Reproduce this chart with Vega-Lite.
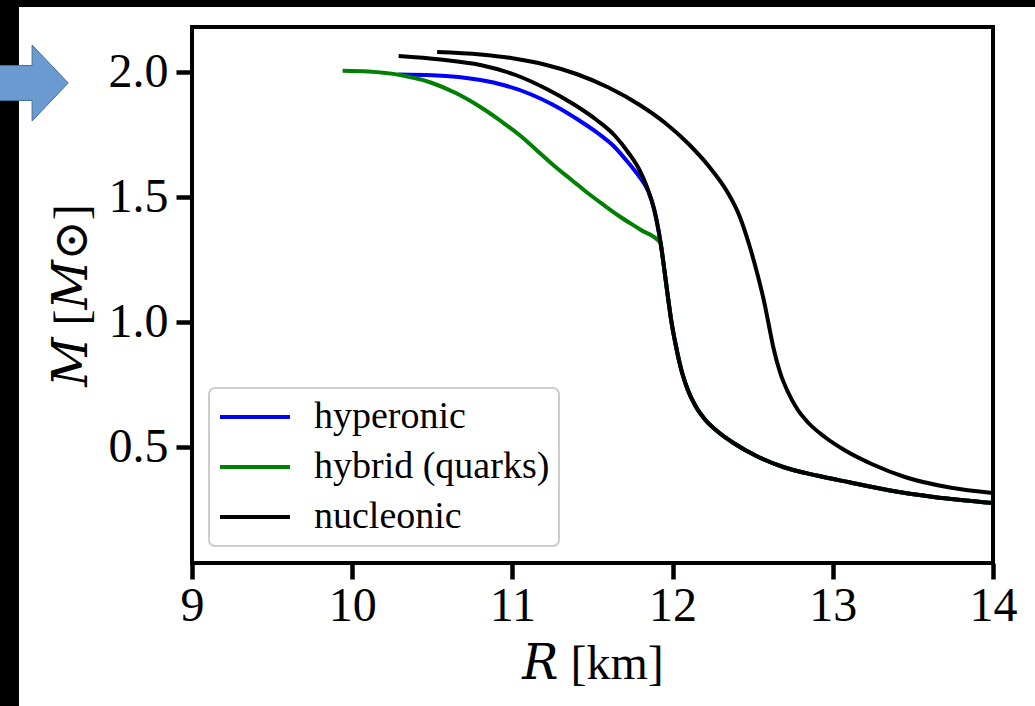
{
  "$schema": "https://vega.github.io/schema/vega-lite/v6.json",
  "width": 801,
  "height": 536,
  "autosize": {"type": "none"},
  "padding": {"left": 192, "top": 27, "right": 42, "bottom": 143},
  "background": "white",
  "config": {
    "view": {"stroke": "black", "strokeWidth": 4},
    "font": "Liberation Serif",
    "axis": {
      "domain": false,
      "grid": false,
      "ticks": true,
      "tickColor": "black",
      "tickWidth": 4.5,
      "tickSize": 16,
      "labelFlush": false,
      "labelFont": "Liberation Serif",
      "labelFontSize": 48,
      "labelColor": "black",
      "titleFont": "Liberation Serif, DejaVu Serif",
      "titleFontSize": 48,
      "titleFontWeight": "normal",
      "titleColor": "black"
    },
    "legend": {
      "labelFont": "Liberation Serif",
      "labelFontSize": 38,
      "labelColor": "black",
      "labelLimit": 0
    }
  },
  "datasets": {
    "frame": [
      {"part": "top band", "R": 7.7, "R2": 14.4, "M": 2.32, "M2": 2.26},
      {"part": "left band", "R": 7.7, "R2": 7.92, "M": 2.32, "M2": -0.6}
    ],
    "pointer": [
      {"R": 8.0137, "M": 1.956}
    ],
    "hyperonic": [
      {"curve": "h", "type": "hyperonic", "R": 10.29, "M": 1.990},
      {"curve": "h", "type": "hyperonic", "R": 10.50, "M": 1.987},
      {"curve": "h", "type": "hyperonic", "R": 10.80, "M": 1.968},
      {"curve": "h", "type": "hyperonic", "R": 10.95, "M": 1.947},
      {"curve": "h", "type": "hyperonic", "R": 11.11, "M": 1.912},
      {"curve": "h", "type": "hyperonic", "R": 11.25, "M": 1.870},
      {"curve": "h", "type": "hyperonic", "R": 11.42, "M": 1.805},
      {"curve": "h", "type": "hyperonic", "R": 11.53, "M": 1.757},
      {"curve": "h", "type": "hyperonic", "R": 11.63, "M": 1.705},
      {"curve": "h", "type": "hyperonic", "R": 11.72, "M": 1.640},
      {"curve": "h", "type": "hyperonic", "R": 11.78, "M": 1.592},
      {"curve": "h", "type": "hyperonic", "R": 11.82, "M": 1.556},
      {"curve": "h", "type": "hyperonic", "R": 11.85, "M": 1.520},
      {"curve": "h", "type": "hyperonic", "R": 11.885, "M": 1.450},
      {"curve": "h", "type": "hyperonic", "R": 11.915, "M": 1.356},
      {"curve": "h", "type": "hyperonic", "R": 11.94, "M": 1.250},
      {"curve": "h", "type": "hyperonic", "R": 11.965, "M": 1.128},
      {"curve": "h", "type": "hyperonic", "R": 11.993, "M": 1.000},
      {"curve": "h", "type": "hyperonic", "R": 12.022, "M": 0.900},
      {"curve": "h", "type": "hyperonic", "R": 12.058, "M": 0.800},
      {"curve": "h", "type": "hyperonic", "R": 12.095, "M": 0.728},
      {"curve": "h", "type": "hyperonic", "R": 12.142, "M": 0.665},
      {"curve": "h", "type": "hyperonic", "R": 12.205, "M": 0.608},
      {"curve": "h", "type": "hyperonic", "R": 12.285, "M": 0.560},
      {"curve": "h", "type": "hyperonic", "R": 12.38, "M": 0.516},
      {"curve": "h", "type": "hyperonic", "R": 12.52, "M": 0.465},
      {"curve": "h", "type": "hyperonic", "R": 12.69, "M": 0.420},
      {"curve": "h", "type": "hyperonic", "R": 12.90, "M": 0.386},
      {"curve": "h", "type": "hyperonic", "R": 13.11, "M": 0.358},
      {"curve": "h", "type": "hyperonic", "R": 13.35, "M": 0.327},
      {"curve": "h", "type": "hyperonic", "R": 13.63, "M": 0.300},
      {"curve": "h", "type": "hyperonic", "R": 14.00, "M": 0.276}
    ],
    "hybrid": [
      {"curve": "q", "type": "hybrid (quarks)", "R": 9.94, "M": 2.005},
      {"curve": "q", "type": "hybrid (quarks)", "R": 10.10, "M": 2.002},
      {"curve": "q", "type": "hybrid (quarks)", "R": 10.30, "M": 1.988},
      {"curve": "q", "type": "hybrid (quarks)", "R": 10.49, "M": 1.958},
      {"curve": "q", "type": "hybrid (quarks)", "R": 10.65, "M": 1.915},
      {"curve": "q", "type": "hybrid (quarks)", "R": 10.80, "M": 1.860},
      {"curve": "q", "type": "hybrid (quarks)", "R": 10.93, "M": 1.803},
      {"curve": "q", "type": "hybrid (quarks)", "R": 11.05, "M": 1.745},
      {"curve": "q", "type": "hybrid (quarks)", "R": 11.15, "M": 1.688},
      {"curve": "q", "type": "hybrid (quarks)", "R": 11.26, "M": 1.625},
      {"curve": "q", "type": "hybrid (quarks)", "R": 11.37, "M": 1.568},
      {"curve": "q", "type": "hybrid (quarks)", "R": 11.47, "M": 1.516},
      {"curve": "q", "type": "hybrid (quarks)", "R": 11.57, "M": 1.468},
      {"curve": "q", "type": "hybrid (quarks)", "R": 11.67, "M": 1.422},
      {"curve": "q", "type": "hybrid (quarks)", "R": 11.80, "M": 1.369},
      {"curve": "q", "type": "hybrid (quarks)", "R": 11.925, "M": 1.316},
      {"curve": "q", "type": "hybrid (quarks)", "R": 11.94, "M": 1.250},
      {"curve": "q", "type": "hybrid (quarks)", "R": 11.965, "M": 1.128},
      {"curve": "q", "type": "hybrid (quarks)", "R": 11.993, "M": 1.000},
      {"curve": "q", "type": "hybrid (quarks)", "R": 12.022, "M": 0.900},
      {"curve": "q", "type": "hybrid (quarks)", "R": 12.058, "M": 0.800},
      {"curve": "q", "type": "hybrid (quarks)", "R": 12.095, "M": 0.728},
      {"curve": "q", "type": "hybrid (quarks)", "R": 12.142, "M": 0.665},
      {"curve": "q", "type": "hybrid (quarks)", "R": 12.205, "M": 0.608},
      {"curve": "q", "type": "hybrid (quarks)", "R": 12.285, "M": 0.560},
      {"curve": "q", "type": "hybrid (quarks)", "R": 12.38, "M": 0.516},
      {"curve": "q", "type": "hybrid (quarks)", "R": 12.52, "M": 0.465},
      {"curve": "q", "type": "hybrid (quarks)", "R": 12.69, "M": 0.420},
      {"curve": "q", "type": "hybrid (quarks)", "R": 12.90, "M": 0.386},
      {"curve": "q", "type": "hybrid (quarks)", "R": 13.11, "M": 0.358},
      {"curve": "q", "type": "hybrid (quarks)", "R": 13.35, "M": 0.327},
      {"curve": "q", "type": "hybrid (quarks)", "R": 13.63, "M": 0.300},
      {"curve": "q", "type": "hybrid (quarks)", "R": 14.00, "M": 0.276}
    ],
    "nucleonic": [
      {"curve": "n1", "type": "nucleonic", "R": 10.29, "M": 2.064},
      {"curve": "n1", "type": "nucleonic", "R": 10.55, "M": 2.050},
      {"curve": "n1", "type": "nucleonic", "R": 10.80, "M": 2.028},
      {"curve": "n1", "type": "nucleonic", "R": 11.02, "M": 1.988},
      {"curve": "n1", "type": "nucleonic", "R": 11.22, "M": 1.930},
      {"curve": "n1", "type": "nucleonic", "R": 11.38, "M": 1.872},
      {"curve": "n1", "type": "nucleonic", "R": 11.53, "M": 1.806},
      {"curve": "n1", "type": "nucleonic", "R": 11.64, "M": 1.745},
      {"curve": "n1", "type": "nucleonic", "R": 11.73, "M": 1.672},
      {"curve": "n1", "type": "nucleonic", "R": 11.79, "M": 1.612},
      {"curve": "n1", "type": "nucleonic", "R": 11.84, "M": 1.540},
      {"curve": "n1", "type": "nucleonic", "R": 11.885, "M": 1.450},
      {"curve": "n1", "type": "nucleonic", "R": 11.915, "M": 1.356},
      {"curve": "n1", "type": "nucleonic", "R": 11.94, "M": 1.250},
      {"curve": "n1", "type": "nucleonic", "R": 11.965, "M": 1.128},
      {"curve": "n1", "type": "nucleonic", "R": 11.993, "M": 1.000},
      {"curve": "n1", "type": "nucleonic", "R": 12.022, "M": 0.900},
      {"curve": "n1", "type": "nucleonic", "R": 12.058, "M": 0.800},
      {"curve": "n1", "type": "nucleonic", "R": 12.095, "M": 0.728},
      {"curve": "n1", "type": "nucleonic", "R": 12.142, "M": 0.665},
      {"curve": "n1", "type": "nucleonic", "R": 12.205, "M": 0.608},
      {"curve": "n1", "type": "nucleonic", "R": 12.285, "M": 0.560},
      {"curve": "n1", "type": "nucleonic", "R": 12.38, "M": 0.516},
      {"curve": "n1", "type": "nucleonic", "R": 12.52, "M": 0.465},
      {"curve": "n1", "type": "nucleonic", "R": 12.69, "M": 0.420},
      {"curve": "n1", "type": "nucleonic", "R": 12.90, "M": 0.386},
      {"curve": "n1", "type": "nucleonic", "R": 13.11, "M": 0.358},
      {"curve": "n1", "type": "nucleonic", "R": 13.35, "M": 0.327},
      {"curve": "n1", "type": "nucleonic", "R": 13.63, "M": 0.300},
      {"curve": "n1", "type": "nucleonic", "R": 14.00, "M": 0.276},
      {"curve": "n2", "type": "nucleonic", "R": 10.53, "M": 2.080},
      {"curve": "n2", "type": "nucleonic", "R": 10.80, "M": 2.070},
      {"curve": "n2", "type": "nucleonic", "R": 11.00, "M": 2.055},
      {"curve": "n2", "type": "nucleonic", "R": 11.20, "M": 2.030},
      {"curve": "n2", "type": "nucleonic", "R": 11.40, "M": 1.992},
      {"curve": "n2", "type": "nucleonic", "R": 11.60, "M": 1.938},
      {"curve": "n2", "type": "nucleonic", "R": 11.80, "M": 1.866},
      {"curve": "n2", "type": "nucleonic", "R": 11.95, "M": 1.798},
      {"curve": "n2", "type": "nucleonic", "R": 12.10, "M": 1.712},
      {"curve": "n2", "type": "nucleonic", "R": 12.23, "M": 1.620},
      {"curve": "n2", "type": "nucleonic", "R": 12.34, "M": 1.522},
      {"curve": "n2", "type": "nucleonic", "R": 12.42, "M": 1.420},
      {"curve": "n2", "type": "nucleonic", "R": 12.48, "M": 1.305},
      {"curve": "n2", "type": "nucleonic", "R": 12.53, "M": 1.190},
      {"curve": "n2", "type": "nucleonic", "R": 12.57, "M": 1.085},
      {"curve": "n2", "type": "nucleonic", "R": 12.60, "M": 0.990},
      {"curve": "n2", "type": "nucleonic", "R": 12.63, "M": 0.895},
      {"curve": "n2", "type": "nucleonic", "R": 12.67, "M": 0.800},
      {"curve": "n2", "type": "nucleonic", "R": 12.72, "M": 0.720},
      {"curve": "n2", "type": "nucleonic", "R": 12.78, "M": 0.650},
      {"curve": "n2", "type": "nucleonic", "R": 12.85, "M": 0.595},
      {"curve": "n2", "type": "nucleonic", "R": 12.95, "M": 0.540},
      {"curve": "n2", "type": "nucleonic", "R": 13.08, "M": 0.485},
      {"curve": "n2", "type": "nucleonic", "R": 13.25, "M": 0.430},
      {"curve": "n2", "type": "nucleonic", "R": 13.45, "M": 0.380},
      {"curve": "n2", "type": "nucleonic", "R": 13.73, "M": 0.338},
      {"curve": "n2", "type": "nucleonic", "R": 14.00, "M": 0.316}
    ]
  },
  "encoding": {
    "x": {
      "field": "R",
      "type": "quantitative",
      "scale": {"domain": [9, 14], "nice": false, "zero": false},
      "axis": {
        "title": "𝑅 [km]",
        "values": [9, 10, 11, 12, 13, 14],
        "format": "d",
        "labelPadding": 3,
        "titlePadding": 10
      }
    },
    "y": {
      "field": "M",
      "type": "quantitative",
      "scale": {"domain": [0.036, 2.18], "nice": false, "zero": false},
      "axis": {
        "title": "𝑀 [𝑀⊙]",
        "values": [0.5, 1.0, 1.5, 2.0],
        "format": ".1f",
        "labelPadding": 8,
        "titlePadding": 12
      }
    }
  },
  "layer": [
    {
      "data": {"name": "frame"},
      "mark": {"type": "rect", "color": "black", "clip": false},
      "encoding": {
        "x2": {"field": "R2"},
        "y2": {"field": "M2"}
      }
    },
    {
      "data": {"name": "pointer"},
      "mark": {
        "type": "point",
        "shape": "M-1.3,-0.46 L-0.05,-0.46 L-0.05,-1 L0.9,0 L-0.05,1 L-0.05,0.46 L-1.3,0.46 Z",
        "size": 5776,
        "filled": true,
        "fill": "#6a9ad0",
        "stroke": "#41719c",
        "strokeWidth": 1,
        "opacity": 1,
        "fillOpacity": 1,
        "clip": false
      }
    },
    {
      "data": {"name": "hyperonic"},
      "mark": {"type": "line", "strokeWidth": 4, "interpolate": "monotone", "clip": true},
      "encoding": {
        "color": {
          "field": "type",
          "type": "nominal",
          "scale": {"domain": ["hyperonic", "hybrid (quarks)", "nucleonic"], "range": ["#0000ff", "#008000", "#000000"]},
          "legend": {
            "title": null,
            "orient": "bottom-left",
            "offset": 17,
            "symbolType": "stroke",
            "symbolSize": 4900,
            "symbolStrokeWidth": 4,
            "clipHeight": 40,
            "labelOffset": 22,
            "padding": 9,
            "rowPadding": 10,
            "strokeColor": "#cccccc",
            "fillColor": "white",
            "cornerRadius": 6,
            "encode": {"legend": {"update": {"strokeWidth": {"value": 2}}}}
          }
        },
        "detail": {"field": "curve"},
        "order": {"field": "M", "sort": "descending"}
      }
    },
    {
      "data": {"name": "hybrid"},
      "mark": {"type": "line", "strokeWidth": 4, "interpolate": "monotone", "clip": true},
      "encoding": {
        "color": {"field": "type", "type": "nominal"},
        "detail": {"field": "curve"},
        "order": {"field": "M", "sort": "descending"}
      }
    },
    {
      "data": {"name": "nucleonic"},
      "mark": {"type": "line", "strokeWidth": 4, "interpolate": "monotone", "clip": true},
      "encoding": {
        "color": {"field": "type", "type": "nominal"},
        "detail": {"field": "curve"},
        "order": {"field": "M", "sort": "descending"}
      }
    }
  ]
}
